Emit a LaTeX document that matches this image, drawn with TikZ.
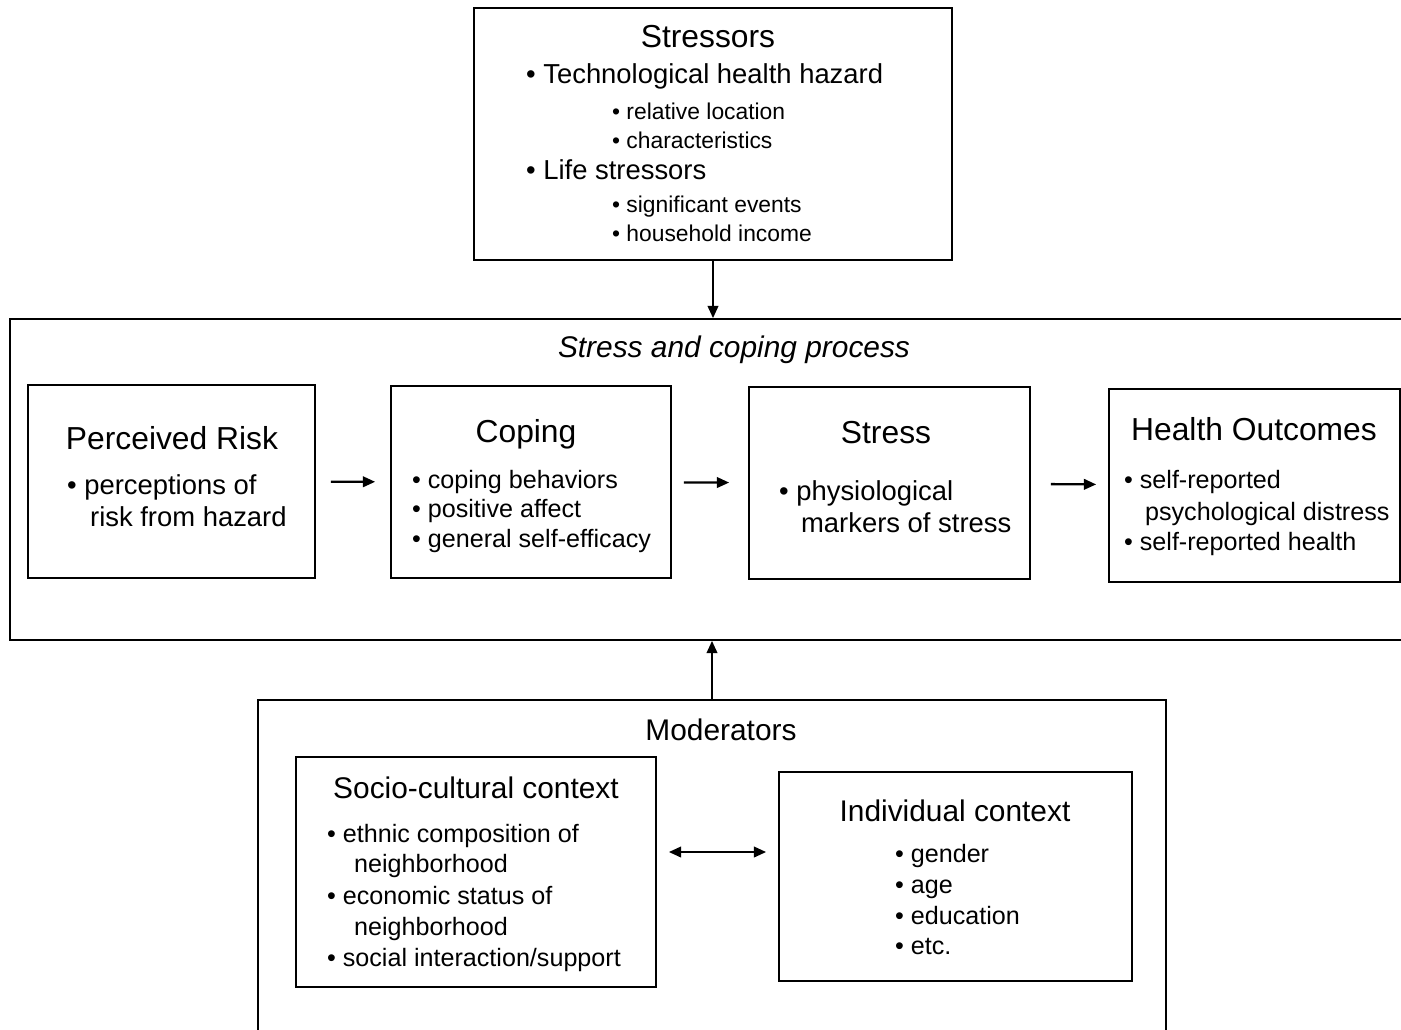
\documentclass[tikz,border=0pt]{standalone}
\usepackage{fontspec}
\setmainfont{Liberation Sans}
\usetikzlibrary{arrows.meta, positioning}

\begin{document}
\begin{tikzpicture}[
    x=0.02cm, y=-0.02cm,
    squarednode/.style={rectangle, draw=black, line width=1pt, inner sep=0pt},
    headtext/.style={anchor=base, font=\fontsize{18.1}{21}\selectfont},
    subheadtext/.style={anchor=base, font=\fontsize{17}{20}\selectfont},
    itemtext/.style={anchor=base west, inner sep=0pt, font=\fontsize{15.6}{18}\selectfont},
    smallitem/.style={anchor=base west, inner sep=0pt, font=\fontsize{14.3}{17}\selectfont},
    subitem/.style={anchor=base west, inner sep=0pt, font=\fontsize{13}{15}\selectfont},
    ->, line width=1.3pt, >={Triangle[length=7pt, width=6pt]}
]
\clip (0,0) rectangle (1401,1029);

% Boxes
\node[squarednode, minimum width=9.56cm, minimum height=5.04cm]  (stressors)  at (713,134)    {};
\node[squarednode, minimum width=28.4cm, minimum height=6.42cm]  (process)    at (720,479.5)  {};
\node[squarednode, minimum width=5.74cm, minimum height=3.86cm]  (risk)       at (171.5,481.5) {};
\node[squarednode, minimum width=5.6cm,  minimum height=3.84cm]  (coping)     at (531,482)    {};
\node[squarednode, minimum width=5.62cm, minimum height=3.84cm]  (stress)     at (889.5,483)  {};
\node[squarednode, minimum width=5.82cm, minimum height=3.86cm]  (health)     at (1254.5,485.5) {};
\node[squarednode, minimum width=18.16cm, minimum height=7.2cm]  (moderators) at (712,880)    {};
\node[squarednode, minimum width=7.2cm,  minimum height=4.6cm]   (socio)      at (476,872)    {};
\node[squarednode, minimum width=7.06cm, minimum height=4.18cm]  (indiv)      at (955.5,876.5) {};

% Stressors
\node[headtext]  (stressorsTitle) at (708,47)  {Stressors};
\node[itemtext]  (techHazard)     at (525,83)  {• Technological health hazard};
\node[subitem]   (relLocation)    at (611,119) {• relative location};
\node[subitem]   (hazardChar)     at (611,148) {• characteristics};
\node[itemtext]  (lifeStressors)  at (525,179) {• Life stressors};
\node[subitem]   (sigEvents)      at (611,212) {• significant events};
\node[subitem]   (income)         at (611,241) {• household income};

% Stress and coping process
\node[subheadtext, font=\fontsize{17}{20}\selectfont\itshape] (processTitle) at (734,357) {Stress and coping process};

\node[headtext]  (riskTitle)   at (172,449)  {Perceived Risk};
\node[itemtext]  (riskA)       at (66,494)   {• perceptions of};
\node[itemtext]  (riskB)       at (89,526)   {risk from hazard};

\node[headtext]  (copingTitle) at (526,442)  {Coping};
\node[smallitem] (copingA)     at (411,488)  {• coping behaviors};
\node[smallitem] (copingB)     at (411,517)  {• positive affect};
\node[smallitem] (copingC)     at (411,547)  {• general self-efficacy};

\node[headtext]  (stressTitle) at (886,443)  {Stress};
\node[itemtext]  (stressA)     at (778,500)  {• physiological};
\node[itemtext]  (stressB)     at (800,532)  {markers of stress};

\node[headtext]  (healthTitle) at (1254,440) {Health Outcomes};
\node[smallitem] (healthA)     at (1123,488) {• self-reported};
\node[smallitem] (healthB)     at (1144,520) {psychological distress};
\node[smallitem] (healthC)     at (1123,550) {• self-reported health};

% Moderators
\node[subheadtext] (moderatorsTitle) at (721,740) {Moderators};

\node[subheadtext] (socioTitle) at (476,798) {Socio-cultural context};
\node[smallitem]   (socioA)     at (326,842) {• ethnic composition of};
\node[smallitem]   (socioB)     at (353,872) {neighborhood};
\node[smallitem]   (socioC)     at (326,904) {• economic status of};
\node[smallitem]   (socioD)     at (353,935) {neighborhood};
\node[smallitem]   (socioE)     at (326,966) {• social interaction/support};

\node[subheadtext] (indivTitle) at (955,821) {Individual context};
\node[smallitem]   (indivA)     at (894,862) {• gender};
\node[smallitem]   (indivB)     at (894,893) {• age};
\node[smallitem]   (indivC)     at (894,924) {• education};
\node[smallitem]   (indivD)     at (894,954) {• etc.};

% Arrows
\draw (stressors.south) -- (stressors.south |- process.north);
\draw (moderators.north) -- (moderators.north |- process.south);
\draw[shorten <=0.3cm, shorten >=0.3cm] (risk) -- (coping);
\draw[shorten <=0.24cm, shorten >=0.38cm] (coping) -- (stress);
\draw[shorten <=0.4cm, shorten >=0.24cm] (stress) -- (health);
\coordinate (link) at ([yshift=0.4cm]socio.east);
\draw[<->, shorten <=0.24cm, shorten >=0.24cm] (link) -- (link -| indiv.west);

\end{tikzpicture}
\end{document}
